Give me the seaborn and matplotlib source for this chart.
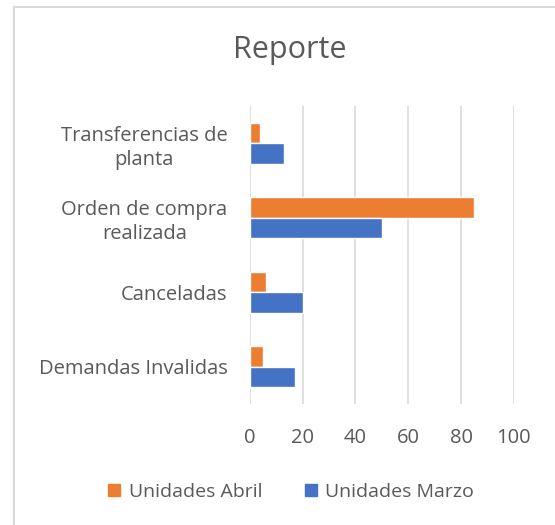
import numpy as np
import pandas as pd
import seaborn as sns
from matplotlib import pyplot as plt
from matplotlib.lines import Line2D

categories = ['Transferencias de\nplanta', 'Orden de compra\nrealizada', 'Canceladas', 'Demandas Invalidas']
series = ['Unidades Abril', 'Unidades Marzo']
abril = [4, 85, 6, 5]
marzo = [13, 50, 20, 17]
x_ticks = [0, 20, 40, 60, 80, 100]

sns.set_style('white')
plt.rcParams['font.family'] = ['Open Sans', 'DejaVu Sans']
text_color = '#595959'

df = pd.DataFrame({
    'categoria': categories * 2,
    'serie': [series[0]] * len(categories) + [series[1]] * len(categories),
    'valor': abril + marzo,
})

fig = plt.figure(figsize=(5.55, 5.25), dpi=100)
ax = fig.add_axes([0.45, 0.23, 0.476, 0.568])
sns.barplot(data=df, x='valor', y='categoria', hue='serie', order=categories,
            hue_order=series, palette=['#ED7D31', '#4472C4'], orient='h',
            width=0.55, saturation=1, ax=ax, legend=False)

ax.set_xlim(0, 100)
ax.set_xticks(x_ticks)
ax.set_xlabel('')
ax.set_ylabel('')
ax.grid(axis='x', color='#D9D9D9', linewidth=1.2)
ax.set_axisbelow(True)
for s in ax.spines.values():
    s.set_visible(False)
ax.tick_params(axis='both', length=0, labelsize=14.5, labelcolor=text_color)
ax.tick_params(axis='x', pad=17)
ax.tick_params(axis='y', pad=16)
for lbl in ax.get_yticklabels():
    lbl.set_multialignment('center')
    lbl.set_linespacing(1.25)

fig.text(0.522, 0.905, 'Reporte', ha='center', va='center', fontsize=22, color=text_color)

handles = [plt.Rectangle((0, 0), 1, 1, color=c) for c in ['#ED7D31', '#4472C4']]
fig.legend(handles, series, loc='center', bbox_to_anchor=(0.525, 0.063), ncol=2,
           frameon=False, fontsize=14, handlelength=0.6, handleheight=0.6,
           columnspacing=2.2, handletextpad=0.45, labelcolor=text_color)

fig.add_artist(Line2D([0.026, 0.026], [0, 0.987], color='#D9D9D9', lw=1.5, transform=fig.transFigure))
fig.add_artist(Line2D([0.026, 1], [0.987, 0.987], color='#D9D9D9', lw=1.5, transform=fig.transFigure))

fig.savefig('out.png', dpi=100)
